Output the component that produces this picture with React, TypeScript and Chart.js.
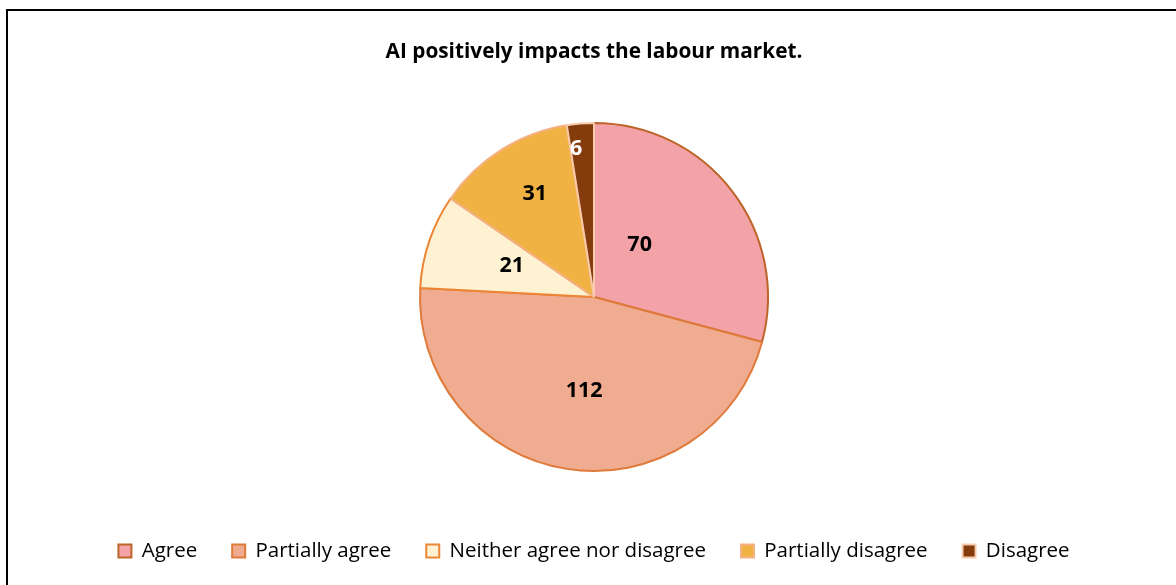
import React, { useEffect, useRef } from "react";
import { Chart, registerables } from "chart.js";

Chart.register(...registerables);

const TITLE = "AI positively impacts the labour market.";
const categories = ["Agree", "Partially agree", "Neither agree nor disagree", "Partially disagree", "Disagree"];
const values = [70, 112, 21, 31, 6];
const fillColors = ["#F3A3A7", "#EFAC91", "#FFF2D2", "#F0B243", "#843C0C"];
const borderColors = ["#BE6429", "#DF7A3B", "#EC8535", "#F4B183", "#F8CBAD"];
const labelColors = ["#000000", "#000000", "#000000", "#000000", "#FFFFFF"];
// label placement style: radial fraction and angular offset (deg)
const labelRadial = [0.4, 0.54, 0.505, 0.685, 0.855];
const labelAngleOffset = [-11.5, -3, 2, 2.4, -2.4];

const FONT = "'Open Sans', 'Liberation Sans', sans-serif";

const labelPlugin = {
  id: "sliceLabels",
  afterDatasetsDraw(chart: any) {
    const ctx = chart.ctx;
    const meta = chart.getDatasetMeta(0);
    ctx.save();
    ctx.font = `bold 21.5px ${FONT}`;
    ctx.textAlign = "center";
    ctx.textBaseline = "middle";
    meta.data.forEach((arc: any, i: number) => {
      const p = arc.getProps(["x", "y", "startAngle", "endAngle", "outerRadius"], true);
      const mid = (p.startAngle + p.endAngle) / 2 + (labelAngleOffset[i] * Math.PI) / 180;
      const r = p.outerRadius * labelRadial[i];
      ctx.fillStyle = labelColors[i];
      ctx.fillText(String(values[i]), p.x + Math.cos(mid) * r, p.y + Math.sin(mid) * r);
    });
    ctx.restore();
  },
};

export default function App() {
  const ref = useRef<HTMLCanvasElement | null>(null);
  useEffect(() => {
    if (!ref.current) return;
    const chart = new Chart(ref.current, {
      type: "pie",
      data: {
        labels: categories,
        datasets: [
          {
            data: values,
            backgroundColor: fillColors,
            borderColor: borderColors,
            borderWidth: 2,
            radius: 174,
          } as any,
        ],
      },
      options: {
        responsive: false,
        animation: false,
        layout: { padding: { left: 12, right: 0, top: 0, bottom: 13.75 } },
        plugins: {
          title: {
            display: true,
            text: TITLE,
            color: "#000",
            font: { family: FONT, size: 20.8, weight: "bold" },
            padding: { top: 39.5, bottom: 23.8 },
          },
          legend: {
            position: "bottom",
            labels: {
              color: "#000",
              font: { family: FONT, size: 20.5 },
              boxWidth: 13,
              boxHeight: 13,
              padding: 35,
            },
          },
          tooltip: { enabled: false },
        },
      },
      plugins: [labelPlugin],
    });
    return () => chart.destroy();
  }, []);
  return (
    <div style={{ position: "fixed", left: 0, top: 0, width: 1176, height: 585, background: "#fff" }}>
      <div
        style={{
          position: "absolute",
          left: 6,
          top: 9,
          width: 2000,
          height: 2000,
          borderTop: "2px solid #000",
          borderLeft: "2px solid #000",
        }}
      />
      <canvas ref={ref} width={1176} height={585} style={{ position: "absolute", left: 0, top: 0 }} />
    </div>
  );
}
